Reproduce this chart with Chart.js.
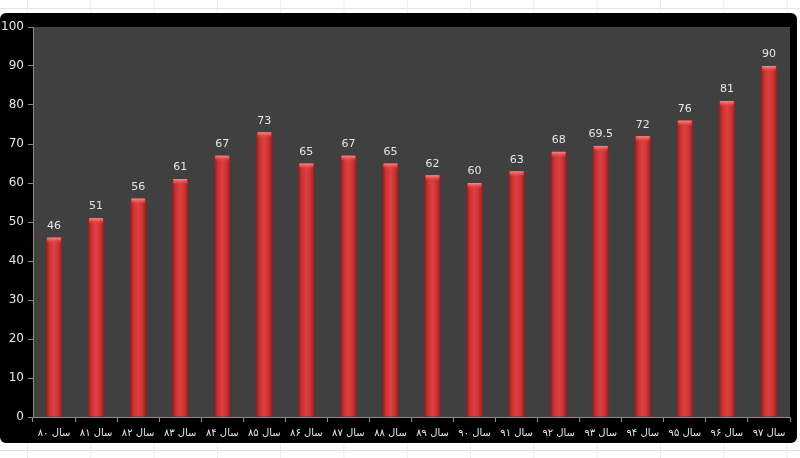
<!DOCTYPE html>
<html>
<head>
<meta charset="utf-8">
<script src="https://cdn.jsdelivr.net/npm/chart.js@4"></script>
<style>
  html, body { margin: 0; padding: 0; }
  body {
    width: 800px; height: 458px; overflow: hidden; position: relative;
    background-color: #fff;
    background-image:
      linear-gradient(to right, #ececec 1px, transparent 1px),
      linear-gradient(to bottom, #e4e4e4 1px, transparent 1px);
    background-size: 63.3px 100%, 100% 442px;
    background-position: 27px 0, 0 8px;
  }
  #box {
    position: absolute; left: 0; top: 13px; width: 797px; height: 430px;
    background: #000; border-radius: 6px;
  }
  canvas { display: block; }
</style>
</head>
<body>
<div id="box"><canvas id="bars" width="797" height="430"></canvas></div>
<script>
    // years shown on the x axis (persian digits)
    var years = ["۸۰","۸۱","۸۲","۸۳","۸۴","۸۵","۸۶","۸۷","۸۸","۸۹","۹۰","۹۱","۹۲","۹۳","۹۴","۹۵","۹۶","۹۷"];
    var categories = years.map(function(y){ return "سال " + y; });
    var values = [46, 51, 56, 61, 67, 73, 65, 67, 65, 62, 60, 63, 68, 69.5, 72, 76, 81, 90];
    var yTicks = [0, 10, 20, 30, 40, 50, 60, 70, 80, 90, 100];

    var BAR_PCT = 0.38;

    // dark plot background
    var plotBg = {
        id: 'plotBg',
        beforeDraw: function(chart) {
            var a = chart.chartArea, ctx = chart.ctx;
            ctx.save();
            ctx.fillStyle = '#404040';
            ctx.fillRect(a.left, a.top, a.right - a.left, a.bottom - a.top);
            ctx.restore();
        }
    };

    // lighter cap on top of each bar + value labels
    var barExtras = {
        id: 'barExtras',
        afterDatasetsDraw: function(chart) {
            var ctx = chart.ctx;
            var meta = chart.getDatasetMeta(0);
            ctx.save();
            meta.data.forEach(function(bar, i) {
                var p = bar.getProps(['x', 'y', 'width'], true);
                var l = p.x - p.width / 2;
                var g = ctx.createLinearGradient(0, p.y, 0, p.y + 6);
                g.addColorStop(0, '#ff8a8a');
                g.addColorStop(1, 'rgba(230,60,60,0)');
                ctx.fillStyle = g;
                ctx.fillRect(l + 1, p.y, p.width - 2, 6);

                ctx.fillStyle = '#e6e6e6';
                ctx.font = '11px "DejaVu Sans", sans-serif';
                ctx.textAlign = 'center';
                ctx.textBaseline = 'bottom';
                ctx.fillText(String(values[i]), p.x, p.y - 6);
            });
            ctx.restore();
        }
    };

    function barFill(c) {
        var chart = c.chart;
        var xs = chart.scales.x;
        if (!xs || !chart.chartArea) return '#d03838';
        var cx = xs.getPixelForValue(c.dataIndex);
        var w = (xs.width / categories.length) * BAR_PCT;
        var g = chart.ctx.createLinearGradient(cx - w / 2, 0, cx + w / 2, 0);
        g.addColorStop(0, '#9a1c1c');
        g.addColorStop(0.25, '#cf3434');
        g.addColorStop(0.5, '#dc4040');
        g.addColorStop(0.75, '#cf3434');
        g.addColorStop(1, '#9a1c1c');
        return g;
    }

    new Chart(document.getElementById('bars').getContext('2d'), {
        type: 'bar',
        data: {
            labels: categories,
            datasets: [{
                data: values,
                backgroundColor: barFill,
                borderWidth: 0,
                barPercentage: BAR_PCT,
                categoryPercentage: 1
            }]
        },
        options: {
            responsive: false,
            animation: false,
            layout: { padding: { top: 14, right: 7, left: 0, bottom: 0 } },
            plugins: { legend: { display: false }, tooltip: { enabled: false } },
            scales: {
                x: {
                    grid: { display: true, drawOnChartArea: false, offset: true, color: '#8a8a8a', tickLength: 5 },
                    border: { color: '#8a8a8a' },
                    ticks: {
                        color: '#e6e6e6', maxRotation: 0, autoSkip: false, padding: 5,
                        font: { family: '"DejaVu Sans", sans-serif', size: 10 }
                    },
                    afterFit: function(s) { s.height = 26; }
                },
                y: {
                    min: 0, max: 100,
                    afterBuildTicks: function(s) { s.ticks = yTicks.map(function(v){ return { value: v }; }); },
                    grid: { display: true, drawOnChartArea: false, color: '#8a8a8a', tickLength: 5 },
                    border: { color: '#8a8a8a' },
                    ticks: {
                        color: '#e6e6e6', padding: 4,
                        font: { family: '"DejaVu Sans", sans-serif', size: 12 }
                    },
                    afterFit: function(s) { s.width = 33; }
                }
            }
        },
        plugins: [plotBg, barExtras]
    });
</script>
</body>
</html>
